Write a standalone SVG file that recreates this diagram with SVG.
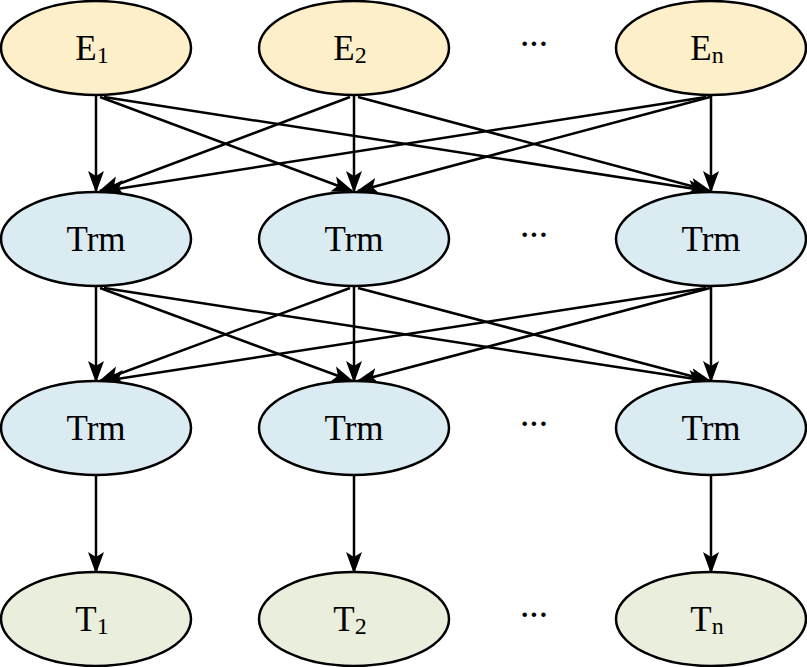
<svg xmlns="http://www.w3.org/2000/svg" width="807" height="667" viewBox="0 0 807 667">
<defs>
<marker id="a2" markerWidth="22" markerHeight="22" refX="20" refY="8" orient="auto" markerUnits="userSpaceOnUse" viewBox="0 0 22 16"><path d="M0,0 L22,8 L0,16 L5,8 Z" fill="#000"/></marker>
<style>
.n{stroke:#000;stroke-width:2.5}
.e{fill:#fdefc9}.t{fill:#daebf2}.o{fill:#eaeedc}
text{font-family:"Liberation Serif",serif;font-size:35px;fill:#000;text-anchor:middle}
.s{font-size:24px}
.d{font-weight:bold;font-size:28px}
.c line{stroke:#000;stroke-width:2.5;marker-end:url(#a2)}
</style>
</defs>
<g class="c" id="connectors">
<line x1="96" y1="96" x2="96" y2="191"/>
<line x1="100" y1="97" x2="352" y2="191"/>
<line x1="104" y1="97" x2="708" y2="191"/>
<line x1="350" y1="97" x2="100" y2="191"/>
<line x1="354" y1="96" x2="354" y2="191"/>
<line x1="358" y1="97" x2="710" y2="191"/>
<line x1="706" y1="97" x2="104" y2="191"/>
<line x1="710" y1="97" x2="358" y2="191"/>
<line x1="711" y1="96" x2="711" y2="191"/>
<line x1="96" y1="287" x2="96" y2="381"/>
<line x1="100" y1="288" x2="352" y2="381"/>
<line x1="104" y1="288" x2="708" y2="381"/>
<line x1="350" y1="288" x2="100" y2="381"/>
<line x1="354" y1="287" x2="354" y2="381"/>
<line x1="358" y1="288" x2="710" y2="381"/>
<line x1="706" y1="288" x2="104" y2="381"/>
<line x1="710" y1="288" x2="358" y2="381"/>
<line x1="711" y1="287" x2="711" y2="381"/>
<line x1="96" y1="476" x2="96" y2="572"/>
<line x1="354" y1="476" x2="354" y2="572"/>
<line x1="711" y1="476" x2="711" y2="572"/>
</g>
<g id="E1"><ellipse class="n e" cx="96" cy="48" rx="95" ry="47"/><text x="92" y="60">E<tspan class="s" dy="3">1</tspan></text></g>
<g id="E2"><ellipse class="n e" cx="354" cy="48" rx="95" ry="47"/><text x="350" y="60">E<tspan class="s" dy="3">2</tspan></text></g>
<g id="En"><ellipse class="n e" cx="711" cy="48" rx="95" ry="47"/><text x="707" y="60">E<tspan class="s" dy="3">n</tspan></text></g>
<g id="R1a"><ellipse class="n t" cx="96" cy="239" rx="95" ry="47"/><text x="96" y="251">Trm</text></g>
<g id="R1b"><ellipse class="n t" cx="354" cy="239" rx="95" ry="47"/><text x="354" y="251">Trm</text></g>
<g id="R1c"><ellipse class="n t" cx="711" cy="239" rx="95" ry="47"/><text x="711" y="251">Trm</text></g>
<g id="R2a"><ellipse class="n t" cx="96" cy="428" rx="95" ry="47"/><text x="96" y="440">Trm</text></g>
<g id="R2b"><ellipse class="n t" cx="354" cy="428" rx="95" ry="47"/><text x="354" y="440">Trm</text></g>
<g id="R2c"><ellipse class="n t" cx="711" cy="428" rx="95" ry="47"/><text x="711" y="440">Trm</text></g>
<g id="T1"><ellipse class="n o" cx="96" cy="619" rx="95" ry="47"/><text x="92" y="631">T<tspan class="s" dy="3">1</tspan></text></g>
<g id="T2"><ellipse class="n o" cx="354" cy="619" rx="95" ry="47"/><text x="350" y="631">T<tspan class="s" dy="3">2</tspan></text></g>
<g id="Tn"><ellipse class="n o" cx="711" cy="619" rx="95" ry="47"/><text x="707" y="631">T<tspan class="s" dy="3">n</tspan></text></g>
<g id="dots">
<text class="d" x="534" y="53">···</text>
<text class="d" x="534" y="244">···</text>
<text class="d" x="534" y="433">···</text>
<text class="d" x="534" y="624">···</text>
</g>
</svg>
